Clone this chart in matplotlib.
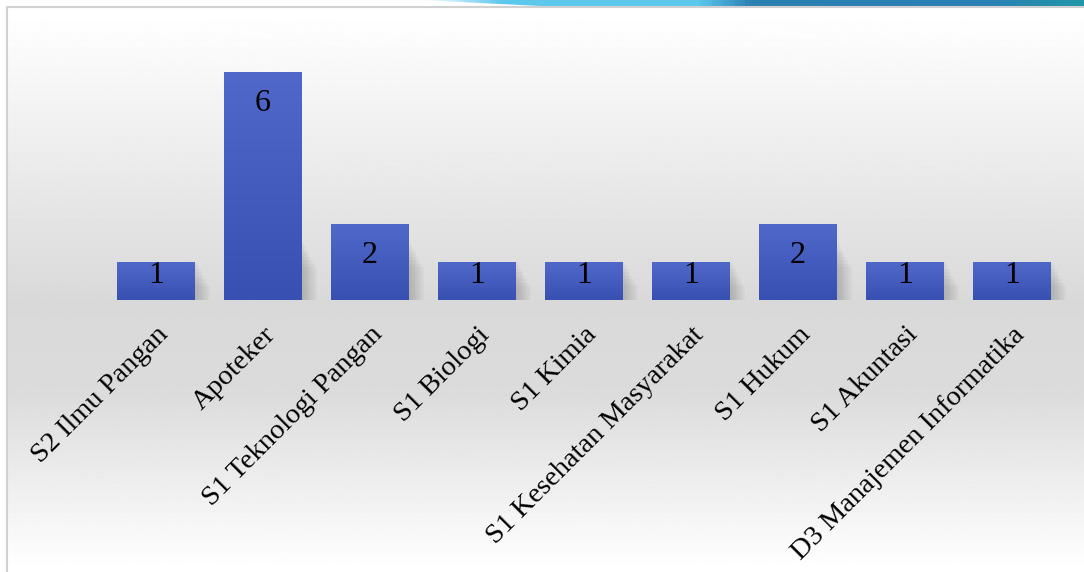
import numpy as np
import matplotlib
matplotlib.use('Agg')
import matplotlib.pyplot as plt
from matplotlib.colors import LinearSegmentedColormap
from matplotlib.patches import Rectangle, Polygon

categories = ["S2 Ilmu Pangan", "Apoteker", "S1 Teknologi Pangan", "S1 Biologi",
              "S1 Kimia", "S1 Kesehatan Masyarakat", "S1 Hukum", "S1 Akuntasi",
              "D3 Manajemen Informatika"]
counts = [1, 6, 2, 1, 1, 1, 2, 1, 1]

plt.rcParams['font.family'] = ['Liberation Serif', 'DejaVu Serif']

W, H = 1084, 572
fig = plt.figure(figsize=(W / 100, H / 100), dpi=100)

# background: framed panel with vertical grey gradient
bg = fig.add_axes([0, 0, 1, 1])
bg.set_xlim(0, W)
bg.set_ylim(H, 0)
bg.axis('off')
grad = np.interp(np.arange(H), [0, 20, 300, 390, 560, 572],
                 [1.0, 0.995, 0.85, 0.86, 0.995, 1.0])
img = np.repeat(grad[:, None], 2, axis=1)
bg.imshow(img, cmap='gray', vmin=0, vmax=1, extent=[6, W, H, 6], aspect='auto')
bg.plot([6.5, 6.5, W], [H, 6.5, 6.5], color='#d0d0d0', lw=1.5)

# blue ribbon along the top edge
ribbon = LinearSegmentedColormap.from_list(
    'rib', [(0, '#ffffff'), (0.12, '#5bc8ec'), (0.42, '#5bc8ec'), (0.5, '#2b7fb2'),
            (0.85, '#2a80b5'), (1.0, '#2196a8')])
rimg = bg.imshow(np.linspace(0, 1, 200)[None, :], cmap=ribbon,
                 extent=[420, W, 6, 0], aspect='auto')
rimg.set_clip_path(Polygon([[420, 0], [W, 0], [W, 6], [540, 6]], closed=True,
                           transform=bg.transData))

ax = fig.add_axes([102.5 / W, 272 / H, 963 / W, 266 / H])
ax.patch.set_visible(False)

x = np.arange(len(categories))
width = 0.72

# soft shadow to the right of each bar
for xi, v in zip(x, counts):
    for k in range(8):
        ax.add_patch(Rectangle((xi - width / 2 + 0.02 + k * 0.018, 0.0),
                               width, min(v, 1.5) - k * 0.09,
                               color='#707070', alpha=0.05, lw=0, zorder=1))

bar_cmap = LinearSegmentedColormap.from_list('bar', ['#3850b2', '#5068c9'])
bars = ax.bar(x, counts, width=width, color='none', zorder=2)
for b in bars:
    bx, by = b.get_x(), b.get_y()
    bw, bh = b.get_width(), b.get_height()
    gim = ax.imshow(np.linspace(0, 1, 100)[:, None], cmap=bar_cmap, origin='lower',
                    extent=[bx, bx + bw, by, by + bh], aspect='auto', zorder=2)
    gim.set_clip_path(b)
ax.set_xlim(-0.5, len(categories) - 0.5)
ax.set_ylim(0, 7)

for xi, v in zip(x, counts):
    if v > 1:
        ax.annotate(str(v), (xi, v), xytext=(0, -22.5), textcoords='offset points',
                    ha='center', va='center', fontsize=23, zorder=3)
    else:
        ax.annotate(str(v), (xi, v / 2), xytext=(0, 4), textcoords='offset points',
                    ha='center', va='center', fontsize=23, zorder=3)

ax.set_xticks(x)
ax.set_xticklabels(categories, rotation=45, ha='right', rotation_mode='anchor',
                   fontsize=20.5)
ax.tick_params(axis='x', length=0, pad=16)
ax.set_yticks([])
for s in ax.spines.values():
    s.set_visible(False)

fig.savefig('out.png', dpi=100)
